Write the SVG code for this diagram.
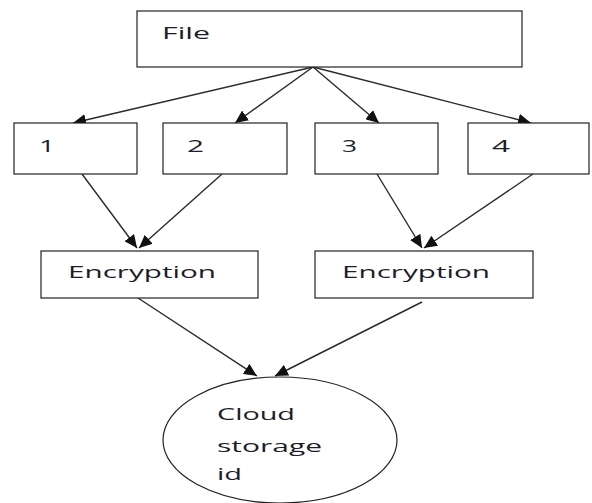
<svg xmlns="http://www.w3.org/2000/svg" width="592" height="503" viewBox="0 0 592 503">
<defs>
<style>
.box{fill:#fff;stroke:#222;stroke-width:1.2}
.t{font-family:"Open Sans","Liberation Sans",sans-serif;font-size:17px;fill:#1c1c2a}
.c{stroke:#2a2a2a;stroke-width:1.4;fill:none;marker-end:url(#ah)}
</style>
<marker id="ah" markerUnits="userSpaceOnUse" markerWidth="14" markerHeight="12" refX="13" refY="6" orient="auto">
<path d="M0,0 L13,6 L0,12 Z" fill="#111"/>
</marker>
</defs>
<rect width="592" height="503" fill="#fff"/>
<g id="connectors">
<line class="c" x1="313" y1="67" x2="73" y2="123"/>
<line class="c" x1="313" y1="67" x2="235" y2="123"/>
<line class="c" x1="313" y1="67" x2="379" y2="123"/>
<line class="c" x1="313" y1="67" x2="531" y2="123"/>
<line class="c" x1="82" y1="174" x2="137" y2="248"/>
<line class="c" x1="222" y1="174" x2="139" y2="248"/>
<line class="c" x1="377" y1="174" x2="422" y2="248"/>
<line class="c" x1="533" y1="174" x2="424" y2="248"/>
<line class="c" x1="138" y1="298" x2="257" y2="376"/>
<line class="c" x1="422" y1="302" x2="275" y2="376"/>
</g>
<g id="file">
<rect class="box" x="137" y="11" width="385" height="56"/>
<text class="t" x="162" y="39" textLength="48" lengthAdjust="spacingAndGlyphs">File</text>
</g>
<g id="n1">
<rect class="box" x="14" y="123" width="123" height="51"/>
<text class="t" x="39" y="152" textLength="16" lengthAdjust="spacingAndGlyphs">1</text>
</g>
<g id="n2">
<rect class="box" x="163" y="123" width="124" height="51"/>
<text class="t" x="187" y="152" textLength="17" lengthAdjust="spacingAndGlyphs">2</text>
</g>
<g id="n3">
<rect class="box" x="315" y="123" width="123" height="51"/>
<text class="t" x="342" y="152" textLength="15" lengthAdjust="spacingAndGlyphs">3</text>
</g>
<g id="n4">
<rect class="box" x="468" y="123" width="121" height="51"/>
<text class="t" x="492" y="152" textLength="18" lengthAdjust="spacingAndGlyphs">4</text>
</g>
<g id="enc1">
<rect class="box" x="41" y="251" width="217" height="47"/>
<text class="t" x="68" y="278" textLength="148" lengthAdjust="spacingAndGlyphs">Encryption</text>
</g>
<g id="enc2">
<rect class="box" x="315" y="251" width="218" height="47"/>
<text class="t" x="342" y="278" textLength="148" lengthAdjust="spacingAndGlyphs">Encryption</text>
</g>
<g id="cloud">
<ellipse class="box" cx="280" cy="440" rx="117" ry="63"/>
<text class="t" x="217" y="420" textLength="78" lengthAdjust="spacingAndGlyphs">Cloud</text>
<text class="t" x="217" y="452" textLength="105" lengthAdjust="spacingAndGlyphs">storage</text>
<text class="t" x="217" y="480" textLength="25" lengthAdjust="spacingAndGlyphs">id</text>
</g>
</svg>
